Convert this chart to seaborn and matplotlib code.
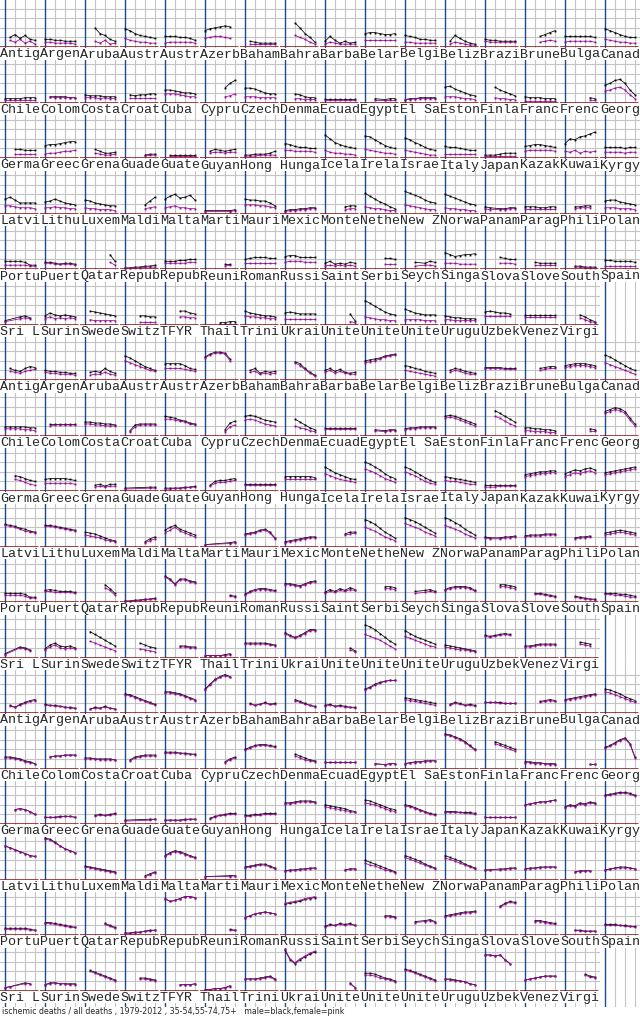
"""Small multiples: share of ischemic heart disease in all deaths, by country,
age group (35-54, 55-74, 75+) and sex, 1979-2012."""
import numpy as np
import pandas as pd
import matplotlib
matplotlib.use("Agg")
import matplotlib.pyplot as plt
from matplotlib import font_manager
import seaborn as sns

N = None
YEARS = [1980, 1985, 1990, 1995, 2000, 2005, 2010]

COUNTRIES = [
    "Antigua and Barbuda", "Argentina", "Aruba", "Australia", "Austria", "Azerbaijan",
    "Bahamas", "Bahrain", "Barbados", "Belarus", "Belgium", "Belize", "Brazil",
    "Brunei Darussalam", "Bulgaria", "Canada",
    "Chile", "Colombia", "Costa Rica", "Croatia", "Cuba", "Cyprus", "Czech Republic",
    "Denmark", "Ecuador", "Egypt", "El Salvador", "Estonia", "Finland", "France",
    "French Guiana", "Georgia",
    "Germany", "Greece", "Grenada", "Guadeloupe", "Guatemala", "Guyana", "Hong Kong SAR",
    "Hungary", "Iceland", "Ireland", "Israel", "Italy", "Japan", "Kazakhstan", "Kuwait",
    "Kyrgyzstan",
    "Latvia", "Lithuania", "Luxembourg", "Maldives", "Malta", "Martinique", "Mauritius",
    "Mexico", "Montenegro", "Netherlands", "New Zealand", "Norway", "Panama", "Paraguay",
    "Philippines", "Poland",
    "Portugal", "Puerto Rico", "Qatar", "Republic of Korea", "Republic of Moldova",
    "Reunion", "Romania", "Russian Federation", "Saint Vincent and Grenadines", "Serbia",
    "Seychelles", "Singapore", "Slovakia", "Slovenia", "South Africa", "Spain",
    "Sri Lanka", "Suriname", "Sweden", "Switzerland", "TFYR Macedonia", "Thailand",
    "Trinidad and Tobago", "Ukraine", "United Arab Emirates", "United Kingdom",
    "United States of America", "Uruguay", "Uzbekistan", "Venezuela", "Virgin Islands (USA)",
]

# values in % of all deaths, at YEARS
M35 = [
    [N,10,13,9,12,8,7], [8,8,7,7,6,6,6], [N,N,20,14,12,8,6], [19,17,14,12,11,10,9],
    [11,11,11,10,10,9,7], [17,19,20,21,22,21,N], [N,6,5,4,4,4,4], [N,N,25,20,14,10,5],
    [6,11,7,4,6,4,5], [14,15,15,14,13,13,14], [12,11,10,8,8,7,7], [N,6,12,9,6,4,3],
    [8,7,7,6,6,6,6], [N,N,N,11,13,15,17], [11,11,11,11,11,11,10], [19,17,15,13,11,10,10],
    [4,4,4,4,5,5,5], [N,6,6,6,6,5,5], [8,7,7,7,6,6,6], [N,8,7,8,8,9,9],
    [13,13,12,11,10,10,9], [N,N,N,N,15,20,23], [15,15,14,12,10,9,9], [N,N,9,8,6,5,5],
    [4,4,4,4,4,4,4], [N,N,4,N,3,4,4], [3,4,4,5,5,5,5], [16,17,14,12,10,8,7],
    [N,N,16,13,11,9,7], [6,5,5,5,4,4,4], [N,N,N,N,N,5,4], [18,20,23,24,20,13,8],
    [N,N,9,9,8,8,8], [13,14,14,15,16,17,17], [N,N,9,7,5,5,6], [N,N,N,N,3,4,4],
    [N,3,3,3,3,3,3], [N,7,9,8,7,8,9], [3,3,4,4,4,5,7], [15,14,12,11,11,10,10],
    [24,20,16,14,12,11,10], [23,22,19,16,13,11,10], [21,19,16,14,11,9,8], [12,11,11,10,9,8,8],
    [3,3,3,4,5,5,5], [12,13,14,14,13,12,11], [15,20,19,22,23,25,27], [11,11,11,11,10,11,11],
    [15,17,14,11,11,11,11], [12,13,15,13,11,10,9], [14,13,11,10,9,8,8], [N,N,N,N,9,13,17],
    [15,18,20,16,17,19,14], [3,N,N,N,N,3,4], [15,14,14,13,13,11,8], [3,4,4,5,5,6,6],
    [N,N,N,N,7,8,8], [21,18,15,12,10,7,5], [23,21,19,17,14,12,11], [20,18,16,14,12,10,9],
    [7,6,N,5,5,6,6], [7,7,7,6,6,7,7], [N,N,7,7,8,8,N], [13,14,14,12,11,10,9],
    [8,8,8,8,7,4,4], [7,7,6,5,6,6,5], [N,N,N,N,N,15,8], [1,1,2,2,3,3,4],
    [8,8,8,9,9,10,10], [N,N,N,N,5,5,N], [10,11,12,12,12,11,11], [13,14,14,12,12,12,12],
    [6,8,5,6,5,7,6], [N,N,N,N,11,11,10], [N,N,7,N,6,8,7], [17,15,13,14,15,15,16],
    [N,N,N,12,11,10,10], [N,N,7,6,6,6,6], [N,N,3,3,2,2,2], [9,9,8,8,8,8,7],
    [4,N,N,8,9,7,N], [9,12,10,9,10,9,8], [N,14,13,12,11,10,9], [N,N,N,9,9,8,8],
    [N,N,N,14,14,12,11], [N,N,N,2,2,3,3], [14,12,11,10,9,9,8], [12,13,12,11,11,11,11],
    [N,N,N,N,N,11,4], [25,22,19,16,13,11,10], [16,14,12,11,10,10,10], [9,8,7,7,6,6,6],
    [13,14,13,12,12,11,N], [10,10,10,10,10,10,10], [N,N,N,10,8,5,3],
]
F35 = [
    [N,7,5,8,4,6,3], [5,5,4,4,4,4,3], [N,N,6,4,7,3,4], [9,7,6,5,5,4,4],
    [4,5,5,5,5,5,4], [9,10,11,11,10,9,N], [N,3,3,3,3,3,3], [N,N,12,10,8,5,3],
    [3,5,4,3,3,3,3], [7,7,7,7,7,7,7], [5,5,4,4,4,4,4], [N,3,5,4,3,2,2],
    [6,5,5,5,5,5,5], [N,N,N,5,6,7,6], [5,6,6,6,6,6,5], [8,7,6,5,5,4,4],
    [3,3,3,3,3,3,3], [N,6,5,5,5,5,5], [5,5,5,4,5,4,4], [N,5,5,5,5,5,5],
    [9,9,9,8,7,6,6], [N,N,N,N,6,7,9], [6,6,6,5,5,5,5], [N,N,4,4,3,3,3],
    [3,3,3,3,3,3,3], [N,N,3,N,3,3,3], [3,3,4,4,4,4,4], [6,6,6,5,4,4,3],
    [N,N,5,4,4,3,3], [2,2,2,2,2,2,2], [N,N,N,N,N,3,3], [12,13,15,16,13,8,4],
    [N,N,4,4,4,4,4], [4,5,5,6,7,7,8], [N,N,5,4,3,3,4], [N,N,N,N,2,3,3],
    [N,2,2,2,2,2,2], [N,5,6,6,5,6,6], [2,2,2,3,3,3,3], [8,8,7,7,7,7,6],
    [8,6,5,5,4,4,3], [9,8,7,6,5,5,4], [8,7,6,5,4,3,3], [4,4,4,4,4,4,4],
    [2,2,2,2,2,2,2], [7,8,8,8,8,8,7], [7,6,8,5,7,6,7], [6,6,6,6,5,6,6],
    [8,8,7,6,6,6,5], [6,6,7,6,6,5,5], [6,5,5,4,4,4,3], [N,N,N,N,5,6,7],
    [6,7,8,6,6,5,5], [2,N,N,N,N,2,3], [9,9,9,8,8,7,6], [2,3,3,4,4,5,5],
    [N,N,N,N,4,5,5], [7,6,5,5,4,3,3], [9,8,7,6,5,4,4], [6,5,5,4,4,3,3],
    [5,4,N,4,4,5,5], [5,5,5,5,5,5,5], [N,N,5,6,6,6,N], [6,6,6,5,5,5,4],
    [4,4,4,4,4,3,3], [6,6,5,5,5,5,4], [N,N,N,N,N,7,4], [1,1,1,1,2,2,2],
    [6,6,6,6,6,7,7], [N,N,N,N,3,4,N], [6,6,6,6,6,6,6], [7,8,8,8,7,7,7],
    [3,4,3,4,3,4,3], [N,N,N,N,5,5,5], [N,N,3,N,4,4,3], [6,6,6,5,5,5,5],
    [N,N,N,6,6,6,5], [N,N,4,4,4,4,4], [N,N,2,2,1,1,1], [3,3,3,3,3,3,3],
    [3,N,N,6,7,6,N], [6,8,6,7,6,7,6], [N,5,4,4,4,4,4], [N,N,N,3,3,3,3],
    [N,N,N,8,8,7,7], [N,N,N,1,1,1,1], [9,8,8,7,7,6,6], [6,6,6,6,6,6,6],
    [N,N,N,N,N,3,2], [8,7,6,5,5,4,4], [5,5,5,5,4,4,4], [5,5,4,4,4,4,4],
    [9,9,9,9,9,9,N], [8,8,8,8,8,8,8], [N,N,N,7,5,3,2],
]
M55 = [
    [N,12,10,9,12,14,13], [10,9,9,8,8,7,7], [N,8,9,8,12,9,7], [25,23,20,17,14,12,10],
    [17,17,17,17,15,12,11], [24,27,29,29,28,22,N], [N,10,12,7,9,8,9], [N,N,19,17,12,8,5],
    [10,12,9,11,8,7,8], [20,21,22,23,25,26,27], [15,14,12,11,9,8,7], [N,10,12,11,9,8,7],
    [13,13,13,13,12,12,12], [N,N,N,12,13,14,14], [15,16,17,17,17,16,15], [26,24,21,18,15,12,10],
    [9,9,9,9,9,8,8], [N,12,12,12,12,12,12], [14,14,13,13,12,12,11], [N,5,11,12,12,12,12],
    [20,19,18,16,15,13,12], [N,N,N,N,6,13,15], [20,21,20,18,16,15,14], [N,N,17,14,11,8,6],
    [8,8,8,8,8,8,8], [N,N,6,N,5,6,6], [7,8,8,9,9,9,9], [20,21,20,18,16,14,12],
    [N,N,26,23,20,17,14], [8,8,7,7,6,6,5], [N,N,N,N,N,7,6], [25,27,29,28,25,18,12],
    [N,N,16,15,13,11,10], [12,13,13,13,13,12,11], [N,N,6,7,5,7,7], [3,N,N,N,N,4,4],
    [3,3,3,3,4,4,5], [N,6,10,11,11,12,13], [7,7,7,7,7,7,7], [15,15,15,15,15,15,14],
    [25,22,19,17,15,13,12], [30,28,25,22,18,15,13], [25,23,20,17,14,11,9], [15,14,13,12,11,10,9],
    [6,6,6,6,6,6,6], [17,18,19,20,20,21,21], [18,20,22,21,23,24,22], [19,20,21,22,23,24,25],
    [23,22,21,19,18,16,15], [22,22,21,20,19,18,17], [15,14,13,11,9,7,6], [N,N,N,N,5,8,10],
    [17,20,22,18,16,14,12], [2,N,N,N,N,4,5], [13,14,15,17,18,15,9], [5,6,7,8,9,10,10],
    [N,N,N,N,13,15,15], [28,26,23,19,15,12,9], [30,28,26,23,20,17,14], [30,28,25,22,18,15,12],
    [10,9,N,9,10,10,11], [11,12,12,12,13,13,13], [N,N,9,10,10,11,N], [14,15,16,17,16,15,14],
    [9,9,9,9,8,5,5], [12,13,12,11,11,11,10], [N,N,N,N,18,14,9], [1,1,2,2,3,3,4],
    [27,24,19,24,24,22,21], [N,N,N,N,N,7,6], [8,11,13,14,14,13,12], [19,19,18,17,19,21,22],
    [10,13,11,14,12,15,13], [N,N,N,N,16,16,15], [N,N,11,N,12,13,11], [13,15,16,16,16,15,12],
    [N,N,N,18,18,17,16], [N,N,9,9,8,7,6], [N,N,6,5,4,3,3], [9,9,9,8,8,7,6],
    [4,N,N,11,10,8,N], [9,13,15,12,11,12,10], [N,27,24,21,18,15,12], [N,N,N,15,13,11,10],
    [N,N,N,12,12,11,11], [2,2,2,2,3,4,N], [15,15,15,15,15,14,13], [26,23,21,23,26,29,29],
    [N,N,N,N,N,10,7], [34,32,29,25,21,17,14], [28,25,22,20,18,16,14], [13,12,11,10,9,8,7],
    [23,22,23,24,25,24,N], [12,12,13,14,14,14,14], [N,N,N,16,15,14,N],
]
F55 = [
    [N,9,8,7,9,10,11], [8,7,7,6,6,6,5], [N,5,6,6,8,6,5], [20,18,16,14,12,10,9],
    [12,12,12,12,11,10,9], [23,26,28,28,27,20,N], [N,8,9,6,7,6,7], [N,N,18,15,11,7,4],
    [8,10,7,9,7,6,6], [18,19,20,22,24,25,26], [10,9,8,7,6,5,4], [N,8,10,9,7,6,6],
    [12,12,12,12,11,11,11], [N,N,N,10,11,12,12], [13,14,15,15,15,14,13], [18,16,14,12,10,8,6],
    [7,7,7,7,6,6,5], [N,10,11,11,11,11,11], [12,12,11,11,10,10,10], [N,4,9,11,11,11,11],
    [17,17,16,15,14,12,11], [N,N,N,N,4,9,11], [16,17,16,14,12,11,10], [N,N,10,8,7,5,4],
    [7,7,7,7,7,7,7], [N,N,5,N,4,5,5], [6,7,7,8,8,8,8], [18,19,18,16,14,12,10],
    [N,N,20,18,15,12,10], [5,5,4,4,4,3,3], [N,N,N,N,N,5,5], [23,25,27,26,23,16,10],
    [N,N,12,11,9,7,6], [8,8,8,8,8,8,7], [N,N,4,5,4,5,5], [2,N,N,N,N,3,3],
    [2,2,3,3,3,4,4], [N,5,8,9,9,10,11], [6,6,6,6,6,6,6], [13,13,13,13,13,13,13],
    [18,16,14,12,11,10,9], [23,21,19,16,13,11,9], [20,18,16,13,10,8,7], [11,10,10,9,8,7,7],
    [4,4,4,5,5,5,5], [15,16,17,18,18,19,19], [15,17,19,18,20,21,19], [17,18,19,20,21,22,23],
    [22,21,20,18,16,15,14], [21,21,20,19,18,17,16], [12,11,10,9,7,6,5], [N,N,N,N,4,6,8],
    [14,17,20,16,14,12,10], [2,N,N,N,N,3,4], [12,13,14,16,17,14,8], [4,5,6,7,8,9,9],
    [N,N,N,N,12,13,14], [20,18,16,13,10,8,6], [24,22,20,18,15,13,11], [22,20,18,16,13,11,9],
    [9,8,N,8,9,9,10], [10,11,11,11,12,12,12], [N,N,8,9,9,10,N], [12,13,14,15,14,13,12],
    [7,7,7,7,6,4,4], [11,11,10,10,10,10,9], [N,N,N,N,15,12,7], [1,1,1,2,2,3,3],
    [26,23,18,23,23,21,20], [N,N,N,N,N,6,5], [7,10,12,13,13,12,11], [18,18,17,16,18,20,21],
    [9,11,10,12,11,13,12], [N,N,N,N,14,14,13], [N,N,9,N,10,11,10], [12,14,15,15,15,14,11],
    [N,N,N,16,16,15,14], [N,N,8,8,7,6,5], [N,N,5,4,3,3,2], [8,8,7,7,6,5,5],
    [3,N,N,10,9,7,N], [8,11,13,10,9,10,9], [N,17,15,13,11,9,7], [N,N,N,9,8,7,6],
    [N,N,N,11,11,10,10], [2,2,2,2,2,3,N], [14,14,14,14,14,13,12], [25,22,20,22,25,28,28],
    [N,N,N,N,N,8,6], [24,22,20,18,15,12,9], [22,20,18,16,14,12,11], [11,10,9,8,8,7,6],
    [22,21,22,23,24,23,N], [11,11,12,13,13,13,13], [N,N,N,14,13,12,N],
]
M75 = [
    [N,8,6,9,11,13,14], [9,8,8,7,6,6,5], [N,4,6,5,7,5,4], [20,19,17,15,13,11,9],
    [22,22,21,20,18,16,14], [25,30,35,38,40,38,N], [N,10,8,9,11,9,10], [N,N,14,12,10,8,7],
    [8,9,7,8,7,6,6], [25,27,30,32,33,34,34], [16,15,14,13,12,11,10], [N,9,11,10,8,9,8],
    [11,11,11,11,10,10,10], [N,N,N,12,13,14,13], [14,15,16,17,18,19,20], [25,24,22,20,17,15,13],
    [12,12,11,10,8,7,5], [N,12,13,13,14,14,14], [11,11,10,10,10,10,9], [N,9,12,13,14,14,14],
    [17,17,17,16,16,15,15], [N,N,N,N,7,10,12], [20,22,24,25,25,24,23], [N,N,15,13,11,9,8],
    [7,7,7,7,7,7,7], [N,N,5,N,4,5,5], [5,6,7,7,8,8,8], [36,35,33,31,28,24,20],
    [N,N,28,26,24,22,20], [7,7,6,6,5,5,5], [N,N,N,N,N,5,5], [22,24,27,30,32,26,12],
    [N,N,15,16,15,13,10], [7,7,7,8,8,8,7], [N,N,9,10,9,10,11], [4,N,N,N,N,5,5],
    [4,4,4,4,5,5,5], [N,6,8,9,10,11,11], [9,9,10,10,11,11,11], [22,22,23,24,24,24,23],
    [20,19,18,17,16,14,13], [25,24,22,20,18,16,15], [20,19,17,15,13,11,10], [13,13,13,12,12,12,11],
    [7,7,7,7,7,7,7], [20,21,22,23,23,24,25], [18,20,19,22,21,23,22], [30,31,32,33,33,32,30],
    [35,33,31,29,27,25,24], [43,42,39,35,32,30,28], [14,13,12,11,10,9,8], [N,N,N,N,4,6,8],
    [25,28,30,29,27,25,23], [3,N,N,N,N,4,4], [13,14,15,16,16,14,12], [9,10,10,11,11,12,12],
    [N,N,N,N,10,11,11], [20,18,16,14,12,10,8], [25,23,21,19,16,14,12], [25,23,21,19,16,14,12],
    [10,10,N,11,11,12,12], [11,12,12,13,13,13,13], [N,N,8,9,9,9,N], [10,11,12,13,13,12,11],
    [7,7,7,7,7,6,5], [13,13,12,11,10,9,8], [N,N,N,N,12,10,8], [2,2,3,3,4,5,5],
    [38,35,36,38,40,40,39], [N,N,N,N,N,6,5], [18,20,22,23,24,23,22], [32,33,34,35,37,38,39],
    [9,11,10,12,11,12,10], [N,N,N,N,20,20,19], [N,N,14,N,15,16,14], [20,21,22,23,24,24,25],
    [N,N,N,30,33,35,34], [N,N,15,15,14,13,12], [N,N,5,5,4,4,4], [11,11,11,10,10,9,9],
    [3,4,N,N,8,7,N], [6,8,8,7,7,7,7], [N,21,19,17,15,13,11], [N,N,N,13,13,12,11],
    [N,N,N,6,6,6,7], [1,1,2,2,3,5,N], [12,12,12,13,14,15,12], [42,32,28,32,35,38,40],
    [N,N,N,N,N,8,3], [18,18,17,15,13,12,10], [22,21,19,17,15,13,11], [12,12,11,10,9,7,6],
    [37,37,36,37,32,28,N], [11,12,13,14,15,15,15], [N,N,N,N,17,15,14],
]
F75 = [
    [N,7,6,8,10,12,13], [8,8,7,7,6,5,5], [N,4,5,5,6,5,4], [19,18,16,14,12,10,8],
    [21,21,20,19,17,15,13], [24,29,34,37,39,37,N], [N,9,8,9,10,9,9], [N,N,13,11,9,8,6],
    [7,8,7,7,6,6,5], [24,26,29,31,33,34,34], [14,13,12,11,10,9,8], [N,8,10,9,8,8,7],
    [11,11,11,10,10,10,10], [N,N,N,11,12,13,12], [13,14,15,16,17,18,19], [22,21,19,17,15,13,11],
    [11,11,10,9,7,6,5], [N,12,13,13,14,14,14], [10,10,10,9,9,9,9], [N,8,11,12,13,13,13],
    [16,16,16,16,15,15,14], [N,N,N,N,6,9,11], [19,21,23,24,24,23,22], [N,N,13,11,9,8,7],
    [7,7,7,7,7,7,7], [N,N,5,N,4,5,5], [5,6,6,7,7,8,8], [35,34,32,30,27,23,19],
    [N,N,26,24,22,20,18], [6,6,5,5,5,4,4], [N,N,N,N,N,5,5], [21,23,26,29,31,25,11],
    [N,N,15,16,15,13,10], [7,7,7,7,8,8,7], [N,N,8,9,9,9,10], [3,N,N,N,N,4,5],
    [4,4,4,4,4,5,5], [N,5,7,9,9,10,10], [8,8,9,9,10,10,10], [21,21,22,23,23,23,22],
    [18,17,16,15,14,13,12], [22,21,20,18,16,14,13], [19,18,16,14,12,10,9], [12,12,12,12,11,11,10],
    [7,7,7,7,7,7,7], [20,21,22,23,23,24,25], [17,19,18,21,20,22,21], [29,30,31,32,32,31,29],
    [35,33,31,29,27,25,24], [42,41,38,35,32,30,28], [13,12,11,10,9,8,7], [N,N,N,N,3,5,7],
    [24,27,29,28,26,24,22], [3,N,N,N,N,3,4], [12,13,14,15,15,13,11], [9,9,10,10,11,11,12],
    [N,N,N,N,10,11,11], [17,15,14,12,10,9,7], [23,21,19,17,15,13,11], [22,21,19,17,15,13,11],
    [10,10,N,10,11,11,12], [11,11,12,12,13,13,13], [N,N,8,8,9,9,N], [10,11,12,12,12,12,11],
    [6,6,6,6,6,5,5], [12,12,11,10,9,8,8], [N,N,N,N,11,9,7], [2,2,2,3,4,4,5],
    [38,35,36,38,40,40,39], [N,N,N,N,N,5,5], [18,20,22,23,24,23,22], [33,34,35,36,38,39,40],
    [8,10,10,11,10,11,10], [N,N,N,N,19,19,18], [N,N,13,N,14,15,13], [19,20,21,22,23,23,24],
    [N,N,N,29,32,34,33], [N,N,14,14,13,12,11], [N,N,5,4,4,4,4], [10,10,10,10,9,9,8],
    [3,4,N,N,7,7,N], [6,7,8,7,7,6,6], [N,20,18,16,14,12,10], [N,N,N,12,12,11,10],
    [N,N,N,6,6,6,7], [1,1,2,2,3,4,N], [12,12,12,12,13,14,11], [43,33,29,33,36,39,41],
    [N,N,N,N,N,7,3], [16,16,15,13,12,11,9], [21,20,18,16,14,12,10], [12,11,10,10,9,7,6],
    [37,37,36,37,32,28,N], [11,12,13,14,15,15,15], [N,N,N,N,16,14,13],
]

AGE_GROUPS = ["35-54", "55-74", "75+"]
SERIES = {"35-54": (M35, F35), "55-74": (M55, F55), "75+": (M75, F75)}
FOOTER = ("ischemic deaths / all deaths , 1979-2012 , 35-54,55-74,75+   "
          "male=black,female=pink")

W, H = 640, 1020
NCOL = 16
ROWS_PER_GROUP = 6
ROW_PX = 55.5
FIRST_RED = 48
PX_PER_UNIT = 96
BLUE = "#1a4c8c"
GREY = "#c4c4c4"
RED = "#8b1111"
PALETTE = {"male": "black", "female": "#990099"}


def panel(fig, k, c, horizontal=True):
    red = FIRST_RED + ROW_PX * k
    top = red - ROW_PX
    bottom = red + 16 if k == 3 * ROWS_PER_GROUP - 1 else red
    ax = fig.add_axes([40 * c / W, 1 - bottom / H, 40 / W, (bottom - top) / H])
    ax.set_facecolor("none")
    ax.set_xlim(1975, 2015)
    ax.set_ylim(-(bottom - red) / PX_PER_UNIT, (red - top) / PX_PER_UNIT)
    ax.set_xticks([1990, 2000, 2010])
    ax.set_yticks([0.1, 0.2, 0.3, 0.4] if horizontal else [])
    ax.grid(True, color=GREY, lw=0.8)
    ax.set_axisbelow(True)
    ax.axvline(1980, color=BLUE, lw=1.0, zorder=1)
    ax.tick_params(length=0, labelbottom=False, labelleft=False)
    for s in ax.spines.values():
        s.set_visible(False)
    return ax, red


def footer_font():
    # a narrow sans if one is installed, else condensed DejaVu, else plain
    names = {f.name for f in font_manager.fontManager.ttflist}
    for fam in ["Liberation Sans Narrow", "Arial Narrow", "DejaVu Sans Condensed"]:
        if fam in names:
            return dict(family=fam, fontsize=7.4)
    return dict(family="DejaVu Sans", fontstretch="condensed", fontsize=6.3)


def main():
    sns.set_style("white")
    fig = plt.figure(figsize=(W / 100, H / 100), dpi=100)

    for g, age in enumerate(AGE_GROUPS):
        male, female = SERIES[age]
        assert len(male) == len(female) == len(COUNTRIES)
        for i, name in enumerate(COUNTRIES):
            r, c = divmod(i, NCOL)
            k = g * ROWS_PER_GROUP + r
            ax, red = panel(fig, k, c)
            df = pd.DataFrame({
                "year": YEARS * 2,
                "share": np.array(male[i] + female[i], dtype=float) / 100,
                "sex": ["male"] * len(YEARS) + ["female"] * len(YEARS),
            }).dropna()
            sns.lineplot(data=df, x="year", y="share", hue="sex",
                         hue_order=["male", "female"], palette=PALETTE,
                         estimator=None, marker="s", markersize=1.3,
                         markeredgewidth=0, linewidth=0.55, legend=False, ax=ax)
            ax.set_xlim(1975, 2015)
            ax.set(xlabel="", ylabel="")
            ax.axhline(0, xmin=0, xmax=0.95, color=RED, lw=1.1, zorder=3)
            fig.text(40 * c / W, 1 - (red + 9.5) / H, name[:5],
                     family="Liberation Mono", fontsize=9.6, va="baseline",
                     bbox=dict(facecolor="white", edgecolor="none", pad=0))
        # unused cells of the last row only carry the vertical lines
        for i in range(len(COUNTRIES), ROWS_PER_GROUP * NCOL):
            r, c = divmod(i, NCOL)
            panel(fig, g * ROWS_PER_GROUP + r, c, horizontal=False)

    fig.text(2 / W, 1 - 1014 / H, FOOTER, va="baseline", **footer_font())
    fig.savefig("out.png", dpi=100)
    plt.close(fig)


if __name__ == "__main__":
    main()
